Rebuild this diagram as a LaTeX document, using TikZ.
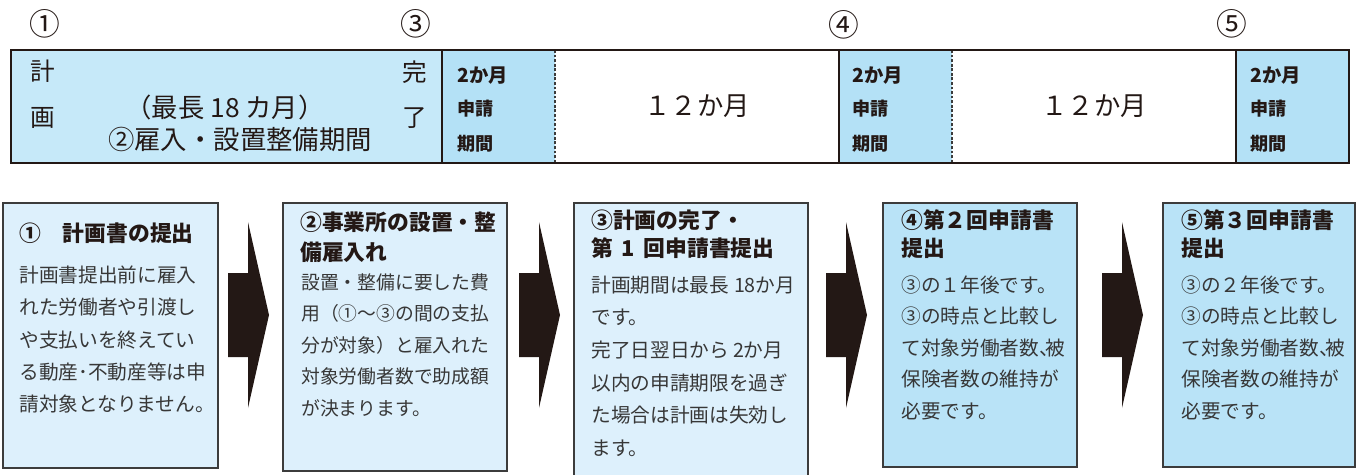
\documentclass[tikz,border=0pt]{standalone}
\usepackage{fontspec}
\setmainfont{Noto Sans CJK JP}
\usetikzlibrary{fit}
\definecolor{planblue}{RGB}{198,233,249}
\definecolor{appblue}{RGB}{180,225,246}
\definecolor{paleblue}{RGB}{221,240,252}
\definecolor{stepblue}{RGB}{185,227,247}
\definecolor{inkdark}{RGB}{35,24,21}
\definecolor{boxline}{RGB}{60,60,60}
\definecolor{bodyink}{RGB}{55,55,55}

\begin{document}
\begin{tikzpicture}[x=0.02cm,y=-0.02cm,
   cell/.style={inner sep=0,outer sep=0},
   barline/.style={draw=inkdark,line width=1.1pt},
   dashline/.style={draw=boxline,line width=0.7pt,dash pattern=on 1.6pt off 1pt},
   bartext/.style={text=inkdark,inner sep=0,font=\fontsize{14}{16}\selectfont},
   bigtext/.style={text=inkdark,inner sep=0,font=\fontsize{15}{18}\selectfont},
   apptext/.style={text=inkdark,inner sep=0,anchor=west,font=\bfseries\fontsize{10.3}{12}\selectfont},
   numlabel/.style={text=inkdark,inner sep=0,font=\fontsize{17.5}{20}\selectfont},
   infobox/.style={draw=boxline,line width=0.8pt,inner sep=0,outer sep=0},
   heading/.style={text=inkdark,inner sep=0,anchor=west,font=\bfseries\fontsize{12.4}{14}\selectfont},
   bodytext/.style={text=bodyink,inner sep=0,anchor=west,font=\fontsize{11.2}{14}\selectfont}]
\useasboundingbox (0,0) rectangle (1356,474);
\clip (0,0) rectangle (1356,474);

% time bar
\node[cell,fill=planblue,fit={(11,50) (442,163)}] (plan) {};
\node[cell,fill=appblue,fit={(442,50) (555,163)}] (apply1) {};
\node[cell,fill=white,fit={(555,50) (839,163)}] (wait1) {};
\node[cell,fill=appblue,fit={(839,50) (952,163)}] (apply2) {};
\node[cell,fill=white,fit={(952,50) (1236,163)}] (wait2) {};
\node[cell,fill=appblue,fit={(1236,50) (1349,163)}] (apply3) {};
\draw[dashline] (apply1.north east) -- (apply1.south east);
\draw[dashline] (apply2.north east) -- (apply2.south east);
\draw[barline] (plan.north east) -- (plan.south east);
\draw[barline] (wait1.north east) -- (wait1.south east);
\draw[barline] (wait2.north east) -- (wait2.south east);
\draw[barline] (plan.north west) rectangle (apply3.south east);

\node[bartext] (kei) at (43,71) {計};
\node[bartext] (ga) at (43,118) {画};
\node[bartext] (kan) at (415,72) {完};
\node[bartext] (ryo) at (415,118) {了};
\node[bigtext] (maxlen) at (225,107) {（最長 18 カ月）};
\node[bigtext] (period) at (240,139) {②雇入・設置整備期間};
\foreach \n/\x in {apply1/457,apply2/852,apply3/1250} {
  \node[apptext,font=\bfseries\fontsize{11}{12}\selectfont] (\n-m) at (\x,76) {2か月};
  \node[apptext] (\n-a) at (\x,109) {申請};
  \node[apptext] (\n-b) at (\x,144) {期間};
}
\node[bigtext] (months1) at (wait1) {１２か月};
\node[bigtext] (months2) at (wait2) {１２か月};

\node[numlabel] (n1) at (45,24) {①};
\node[numlabel] (n3) at (416,24) {③};
\node[numlabel] (n4) at (844,25) {④};
\node[numlabel] (n5) at (1232,24) {⑤};

% steps
\node[infobox,fill=paleblue,fit={(3,203) (218,468)}] (box1) {};
\node[infobox,fill=paleblue,fit={(283,203) (507,471)}] (box2) {};
\node[infobox,fill=paleblue,fit={(574,203) (808,490)}] (box3) {};
\node[infobox,fill=stepblue,fit={(883,203) (1077,467)}] (box4) {};
\node[infobox,fill=stepblue,fit={(1163,203) (1355,467)}] (box5) {};

\foreach \x in {228,519,826,1102}
  \fill[inkdark] (\x,273) -- ++(20,0) -- ++(0,-51) -- (\x+41,315)
     -- (\x+20,408) -- ++(0,-51) -- (\x,357) -- cycle;

\node[heading] (h1) at (19,233) {①　計画書の提出};
\foreach \t [count=\i] in {計画書提出前に雇入,れた労働者や引渡し,
    や支払いを終えてい,る動産･不動産等は申,請対象となりません。}
  \node[bodytext] (b1-\i) at (19,242.7+32.3*\i) {\t};

\node[heading] (h2a) at (300,222) {②事業所の設置・整};
\node[heading] (h2b) at (300,252) {備雇入れ};
\foreach \t [count=\i] in {設置・整備に要した費,用（①～③の間の支払,
    分が対象）と雇入れた,対象労働者数で助成額,が決まります。}
  \node[bodytext,font=\fontsize{10.7}{14}\selectfont] (b2-\i) at (301,250.4+31.6*\i) {\t};

\node[heading] (h3a) at (591,220) {③計画の完了・};
\node[heading] (h3b) at (591,248) {第\hspace{0.4em}1\hspace{0.4em}回申請書提出};
\foreach \t [count=\i] in {計画期間は最長\hspace{0.25em}18か月,です。,完了日翌日から\hspace{0.2em}2か月,
    以内の申請期限を過ぎ,た場合は計画は失効し,ます。}
  \node[bodytext] (b3-\i) at (591,252.4+32.6*\i) {\t};

\node[heading] (h4a) at (901,220) {④第２回申請書};
\node[heading] (h4b) at (901,248) {提出};
\foreach \t [count=\i] in {③の１年後です。,③の時点と比較し,
    て対象労働者数、\kern-0.7em被,保険者数の維持が,必要です。}
  \node[bodytext] (b4-\i) at (901,253.5+31.5*\i) {\t};

\node[heading] (h5a) at (1181,220) {⑤第３回申請書};
\node[heading] (h5b) at (1181,248) {提出};
\foreach \t [count=\i] in {③の２年後です。,③の時点と比較し,
    て対象労働者数、\kern-0.7em被,保険者数の維持が,必要です。}
  \node[bodytext] (b5-\i) at (1181,253.5+31.5*\i) {\t};
\end{tikzpicture}
\end{document}
